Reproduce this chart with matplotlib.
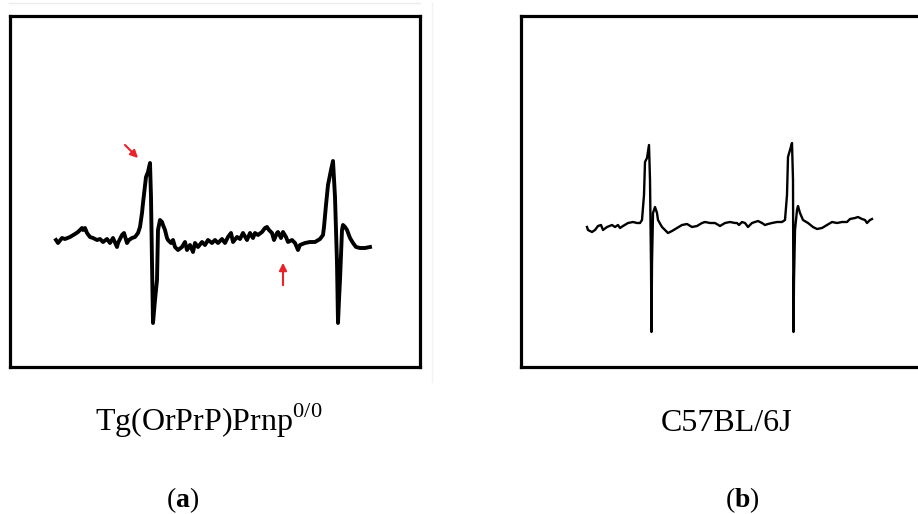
import matplotlib.pyplot as plt
from matplotlib.lines import Line2D

plt.rcParams['font.family'] = ['Liberation Serif', 'DejaVu Serif']
plt.rcParams['mathtext.fontset'] = 'custom'
plt.rcParams['mathtext.rm'] = 'Liberation Serif'
plt.rcParams['mathtext.bf'] = 'Liberation Serif:bold'

# trace (a): Tg(OrPrP)Prnp0/0 (x = time, y = deflection, downward)
t_a = [56, 58, 62, 65, 70, 75, 78, 82, 83, 85, 87, 90, 93, 97, 100, 103, 107, 110, 113,
       117, 118, 122, 124, 127, 129, 132, 135, 138, 140, 142, 143, 146, 148, 150, 151, 152,
       153, 155, 157, 158, 160, 162, 163, 165, 167, 168, 171, 173, 175, 178, 182, 185, 187,
       190, 193, 195, 198, 202, 205, 208, 212, 215, 218, 222, 225, 228, 231, 233, 237, 240,
       243, 247, 250, 253, 255, 258, 262, 265, 267, 269, 272, 274, 277, 278, 281, 283, 286,
       288, 292, 295, 298, 300, 305, 310, 315, 320, 323, 324, 326, 328, 331, 333, 335, 337,
       338, 339, 340, 342, 343, 345, 347, 350, 353, 356, 360, 365, 370]
v_a = [240, 243, 238, 239, 237, 234, 232, 228, 230, 228, 233, 237, 238, 240, 239, 242, 239,
       243, 238, 247, 243, 235, 233, 243, 240, 238, 237, 233, 227, 213, 203, 177, 172, 163,
       197, 263, 323, 300, 280, 230, 220, 222, 225, 230, 238, 240, 243, 240, 247, 250, 247,
       242, 250, 245, 252, 243, 247, 242, 245, 240, 243, 240, 243, 239, 243, 237, 233, 242,
       237, 239, 233, 240, 233, 238, 233, 235, 232, 228, 227, 230, 233, 240, 233, 232, 238,
       232, 237, 242, 240, 243, 250, 245, 243, 242, 242, 239, 235, 227, 205, 185, 170, 161,
       197, 263, 323, 300, 280, 230, 225, 227, 230, 238, 243, 247, 248, 248, 247]

# trace (b): C57BL/6J
t_b = [587, 588, 592, 595, 598, 601, 603, 607, 612, 615, 618, 620, 623, 628, 633, 637, 640,
       642, 644, 645, 647, 649, 650, 651, 651.5, 652, 653, 655, 657, 658, 662, 665, 668, 672,
       677, 682, 687, 692, 697, 702, 705, 710, 715, 720, 725, 730, 735, 737, 739, 742, 745,
       748, 752, 755, 758, 762, 765, 768, 772, 777, 782, 785, 787, 788, 790, 792, 793, 793.5,
       794, 795, 797, 798, 800, 803, 808, 813, 817, 822, 827, 832, 837, 842, 847, 850, 855,
       858, 862, 865, 867, 870, 872]
v_b = [227, 230, 232, 230, 226, 225, 230, 227, 225, 227, 225, 228, 226, 223, 222, 223, 223,
       220, 195, 162, 158, 145, 180, 263, 332, 263, 213, 207, 213, 220, 227, 230, 233, 231,
       228, 225, 224, 227, 226, 223, 222, 223, 223, 226, 223, 222, 223, 223, 225, 222, 223,
       227, 223, 222, 221, 223, 225, 224, 223, 222, 222, 220, 195, 157, 150, 143, 180, 332,
       280, 230, 210, 206, 213, 220, 223, 227, 229, 228, 225, 222, 223, 222, 222, 219, 218,
       217, 219, 220, 223, 220, 219]

labels = ['Tg(OrPrP)Prnp$^{\\mathrm{0/0}}$', 'C57BL/6J']

fig = plt.figure(figsize=(9.18, 5.14), dpi=100)
W, H = 918, 514

def panel(x0, x1, y0, y1):
    ax = fig.add_axes([x0 / W, 1 - y1 / H, (x1 - x0) / W, (y1 - y0) / H])
    ax.set_xlim(x0, x1)
    ax.set_ylim(y1, y0)
    ax.set_xticks([])
    ax.set_yticks([])
    for s in ax.spines.values():
        s.set_linewidth(2.3)
    return ax

ax1 = panel(10, 420, 16, 367)
ax1.plot(t_a, v_a, color='black', lw=2.8, solid_joinstyle='round')
ax1.annotate('', xy=(140, 160), xytext=(123, 143),
             arrowprops=dict(arrowstyle='-|>', color='#e8232a', lw=1.5, mutation_scale=11))
ax1.annotate('', xy=(283, 260), xytext=(283, 288),
             arrowprops=dict(arrowstyle='-|>', color='#e8232a', lw=1.5, mutation_scale=11))

ax2 = panel(521, 930, 16, 367)
ax2.plot(t_b, v_b, color='black', lw=1.7, solid_joinstyle='round')

# faint border of the source image
fig.add_artist(Line2D([9 / W, 420 / W], [1 - 3 / H, 1 - 3 / H], color='#ececec', lw=1))
fig.add_artist(Line2D([432 / W, 432 / W], [1 - 3 / H, 1 - 382 / H], color='#f2f2f2', lw=1))

fig.text(209 / W, 1 - 431 / H, labels[0], ha='center', va='baseline', fontsize=23)
fig.text(727 / W, 1 - 431 / H, labels[1], ha='center', va='baseline', fontsize=23)
fig.text(183 / W, 1 - 507 / H, '($\\mathbf{a}$)', ha='center', va='baseline', fontsize=20)
fig.text(742 / W, 1 - 507 / H, '($\\mathbf{b}$)', ha='center', va='baseline', fontsize=20)

fig.savefig('out.png', dpi=100)
